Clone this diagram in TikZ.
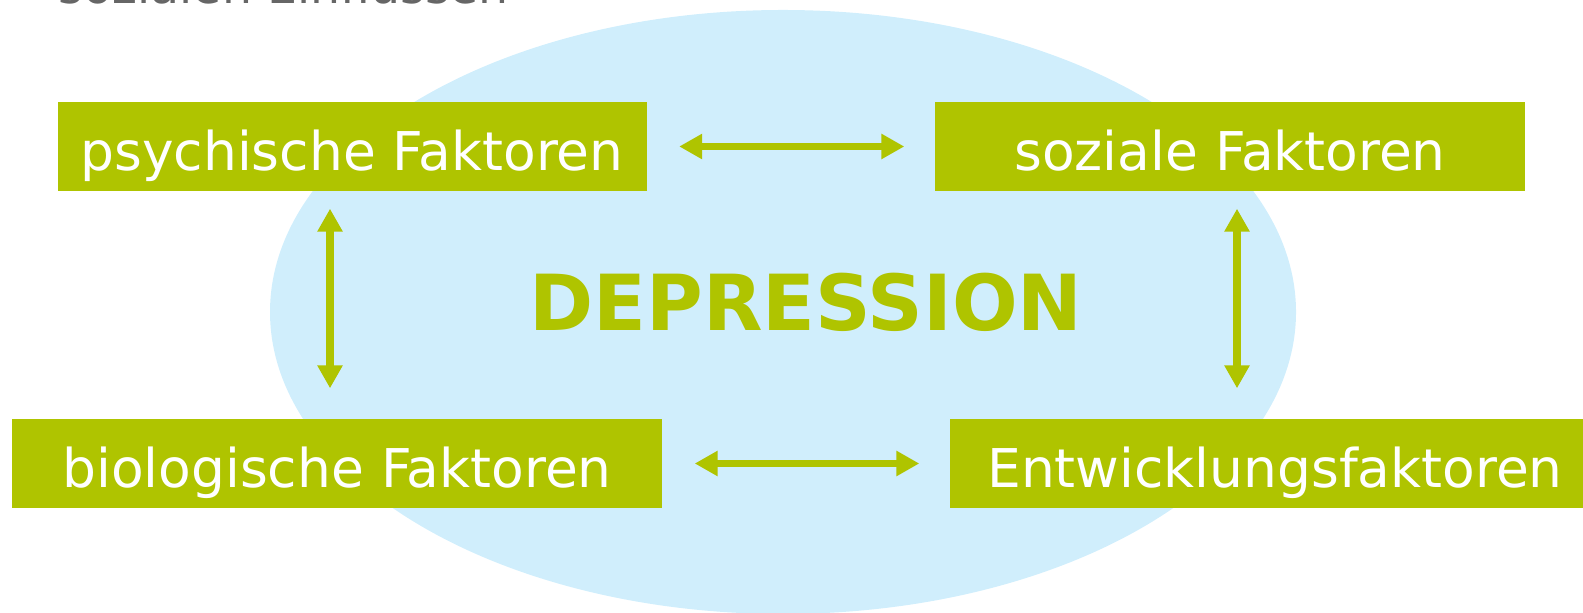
\documentclass[tikz,border=0pt]{standalone}
\usepackage{fontspec}
\setmainfont{DejaVu Sans}
\usepackage{tikz}
\usetikzlibrary{shapes,arrows.meta,positioning}

\definecolor{grasgruen}{HTML}{AFC400}
\definecolor{hellblau}{HTML}{D0EEFC}
\definecolor{textgrau}{HTML}{666666}

\begin{document}
\begin{tikzpicture}[
    faktor/.style={fill=grasgruen,text=white,inner sep=0pt,text height=0.687cm,text depth=0.203cm,
      font=\fontsize{15.2}{18}\selectfont},
    wechsel/.style={grasgruen,line width=2.1pt,
      {Triangle[length=0.23cm,width=0.24cm]}-{Triangle[length=0.23cm,width=0.24cm]}}
  ]
        \useasboundingbox (0,0) rectangle (15.83,-6.13);
        \fill[hellblau] (7.83,-3.12) ellipse (5.13 and 3.02);
        \node[anchor=base west,text=textgrau,inner sep=0pt,
          font=\fontsize{13.5}{16}\selectfont] (kopf) at (0.58,-0.04) {sozialen Einflüssen};

        \node[faktor,minimum width=5.89cm] (psych) at (3.52,-1.465) {psychische Faktoren};
        \node[faktor,minimum width=5.90cm] (sozial) at (12.30,-1.465) {soziale Faktoren};
        \node[faktor,minimum width=6.50cm] (bio) at (3.37,-4.635) {biologische Faktoren};
        \node[faktor,minimum width=6.50cm] (entw) at (12.75,-4.635) {Entwicklungsfaktoren};

        \node[text=grasgruen,inner sep=0pt,font=\fontsize{22}{26}\bfseries] (depr)
          at (8.06,-3.02) {DEPRESSION};

        \coordinate (links) at (3.30,0);
        \coordinate (rechts) at (12.37,0);
        \draw[wechsel,shorten <=0.32cm,shorten >=0.30cm] (psych.east) -- (sozial.west);
        \draw[wechsel,shorten <=0.32cm,shorten >=0.30cm] (bio.east) -- (entw.west);
        \draw[wechsel,shorten <=0.17cm,shorten >=0.30cm] (psych.south -| links) -- (bio.north -| links);
        \draw[wechsel,shorten <=0.17cm,shorten >=0.30cm] (sozial.south -| rechts) -- (entw.north -| rechts);
      \end{tikzpicture}
\end{document}
